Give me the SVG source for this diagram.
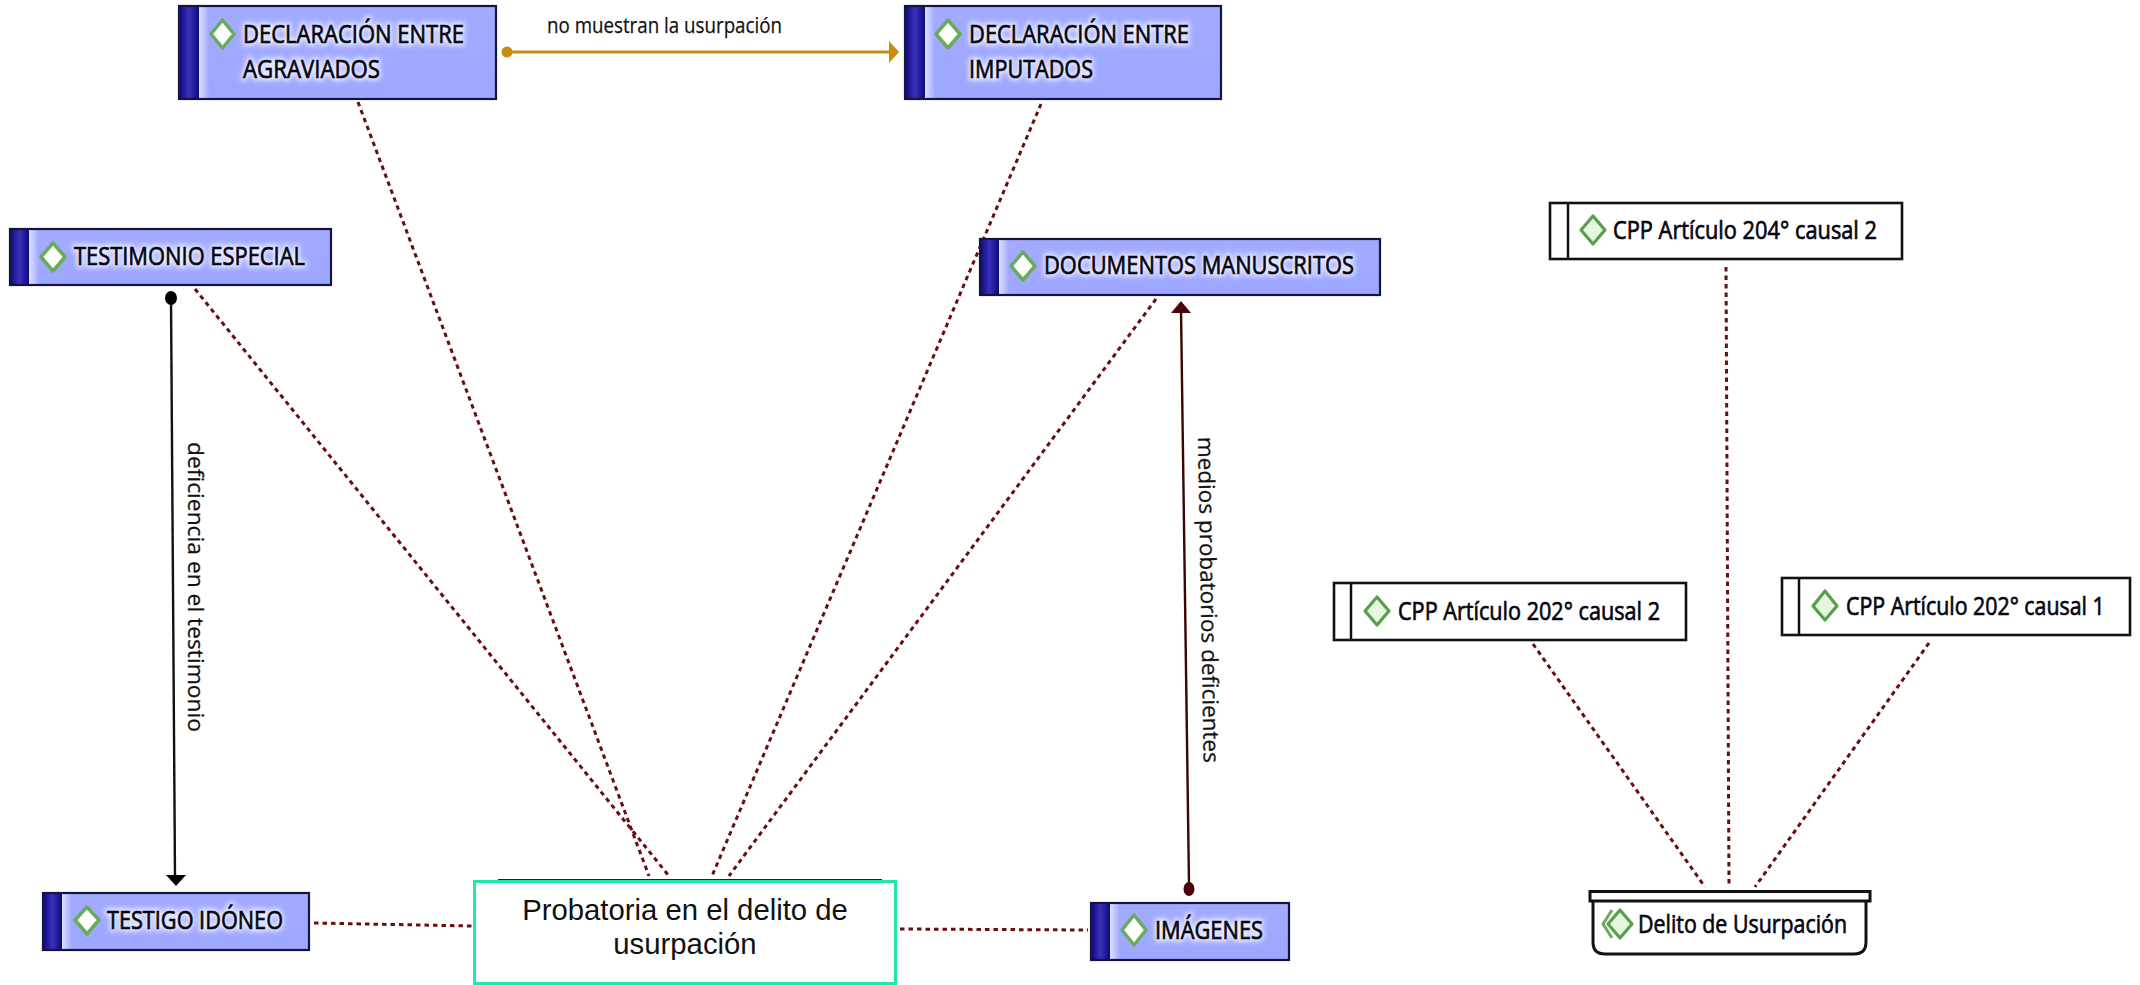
<svg xmlns="http://www.w3.org/2000/svg" width="2140" height="985" viewBox="0 0 2140 985">
<style>
.body{fill:url(#bodyg)}
.edge{fill:none;stroke:#14143c;stroke-width:2.2}
.plain{fill:#fff;stroke:#111;stroke-width:2.6}
.sep{stroke:#111;stroke-width:2.5}
.dia{fill:#fff;stroke:#69ab5c;stroke-width:3.5;stroke-linejoin:round}
.dia2{fill:#e6f6e1;stroke:#59a04c;stroke-width:3.2;stroke-linejoin:round}
.t{font-family:"Open Sans","Noto Sans",sans-serif;font-size:26px;fill:#050510;stroke:#050510;stroke-width:.7}
.halo{fill:#e8eaff;stroke:#e8eaff;stroke-width:5;filter:url(#blur)}
.lab{font-family:"Liberation Sans",Arial,sans-serif;font-size:29.3px;fill:#111;text-anchor:middle}
.cl{font-family:"Open Sans","Noto Sans",sans-serif;font-size:22px;fill:#111;stroke:#111;stroke-width:.25}
.dot{fill:none;stroke:#6a0d10;stroke-width:3;stroke-dasharray:4.5 4}
</style>
<defs>
<filter id="blur" x="-10%" y="-30%" width="120%" height="160%"><feGaussianBlur stdDeviation="2.5"/></filter>
<linearGradient id="bandg" x1="0" x2="1" y1="0" y2="0"><stop offset="0" stop-color="#0c0880"/><stop offset="0.5" stop-color="#3a30b8"/><stop offset="1" stop-color="#0c0880"/></linearGradient>
<linearGradient id="bodyg" x1="0" x2="0" y1="0" y2="1"><stop offset="0" stop-color="#a2abff"/><stop offset="1" stop-color="#9ea7ff"/></linearGradient>
<linearGradient id="glow" x1="0" x2="1" y1="0" y2="0"><stop offset="0" stop-color="#dfe2ff"/><stop offset="1" stop-color="#a0a9ff"/></linearGradient>
</defs>

<g id="connectors">
<line class="dot" x1="358" y1="102" x2="649" y2="876"/>
<line class="dot" x1="1041" y1="104" x2="712" y2="876"/>
<line class="dot" x1="195" y1="289" x2="669" y2="876"/>
<line class="dot" x1="1156" y1="299" x2="729" y2="876"/>
<line class="dot" x1="314" y1="923" x2="472" y2="926"/>
<line class="dot" x1="900" y1="929" x2="1088" y2="930"/>
<line class="dot" x1="1726" y1="267" x2="1729" y2="887"/>
<line class="dot" x1="1533" y1="644" x2="1705" y2="887"/>
<line class="dot" x1="1929" y1="643" x2="1755" y2="887"/>
<g id="c-gold"><line x1="507" y1="52" x2="892" y2="52" stroke="#c98c0c" stroke-width="2.8"/><circle cx="507" cy="52" r="5.5" fill="#c98c0c"/><path d="M889,41 L899,52 L889,63 Z" fill="#c98c0c"/><text class="cl" x="547" y="33" textLength="235" lengthAdjust="spacingAndGlyphs">no muestran la usurpación</text></g>
<g id="c-black"><line x1="171" y1="298" x2="175" y2="878" stroke="#111" stroke-width="2.4"/><ellipse cx="171" cy="298" rx="6" ry="7" fill="#000"/><path d="M166,875 L186,875 L176,886 Z" fill="#000"/><text class="cl" transform="translate(188,442) rotate(90)" textLength="290" lengthAdjust="spacingAndGlyphs">deficiencia en el testimonio</text></g>
<g id="c-red"><line x1="1181" y1="310" x2="1189" y2="885" stroke="#3a0505" stroke-width="2.4"/><ellipse cx="1189" cy="889" rx="5.5" ry="7" fill="#4a0508"/><path d="M1171,313 L1191,313 L1181,301 Z" fill="#4a0508"/><text class="cl" transform="translate(1198,437) rotate(89)" textLength="326" lengthAdjust="spacingAndGlyphs">medios probatorios deficientes</text></g>
</g>

<g id="n-agraviados"><rect class="body" x="179" y="6" width="317" height="93"/><rect x="199" y="6" width="10" height="93" fill="url(#glow)"/><rect x="179" y="6" width="20" height="93" fill="url(#bandg)"/><rect class="edge" x="179" y="6" width="317" height="93"/><path class="dia" d="M222.500,20 L234,34 L222.500,48 L211,34 Z"/><text class="t halo" x="243" y="43" textLength="221" lengthAdjust="spacingAndGlyphs">DECLARACIÓN ENTRE</text><text class="t halo" x="243" y="78" textLength="137" lengthAdjust="spacingAndGlyphs">AGRAVIADOS</text><text class="t" x="243" y="43" textLength="221" lengthAdjust="spacingAndGlyphs">DECLARACIÓN ENTRE</text><text class="t" x="243" y="78" textLength="137" lengthAdjust="spacingAndGlyphs">AGRAVIADOS</text></g>
<g id="n-imputados"><rect class="body" x="905" y="6" width="316" height="93"/><rect x="925" y="6" width="10" height="93" fill="url(#glow)"/><rect x="905" y="6" width="20" height="93" fill="url(#bandg)"/><rect class="edge" x="905" y="6" width="316" height="93"/><path class="dia" d="M948,20 L960,34 L948,48 L936,34 Z"/><text class="t halo" x="969" y="43" textLength="220" lengthAdjust="spacingAndGlyphs">DECLARACIÓN ENTRE</text><text class="t halo" x="969" y="78" textLength="124" lengthAdjust="spacingAndGlyphs">IMPUTADOS</text><text class="t" x="969" y="43" textLength="220" lengthAdjust="spacingAndGlyphs">DECLARACIÓN ENTRE</text><text class="t" x="969" y="78" textLength="124" lengthAdjust="spacingAndGlyphs">IMPUTADOS</text></g>
<g id="n-testimonio"><rect class="body" x="10" y="229" width="321" height="56"/><rect x="29" y="229" width="10" height="56" fill="url(#glow)"/><rect x="10" y="229" width="19" height="56" fill="url(#bandg)"/><rect class="edge" x="10" y="229" width="321" height="56"/><path class="dia" d="M53,243 L65,257 L53,271 L41,257 Z"/><text class="t halo" x="74" y="265" textLength="231" lengthAdjust="spacingAndGlyphs">TESTIMONIO ESPECIAL</text><text class="t" x="74" y="265" textLength="231" lengthAdjust="spacingAndGlyphs">TESTIMONIO ESPECIAL</text></g>
<g id="n-documentos"><rect class="body" x="980" y="239" width="400" height="56"/><rect x="999" y="239" width="10" height="56" fill="url(#glow)"/><rect x="980" y="239" width="19" height="56" fill="url(#bandg)"/><rect class="edge" x="980" y="239" width="400" height="56"/><path class="dia" d="M1023,252 L1035,266 L1023,280 L1011,266 Z"/><text class="t halo" x="1044" y="274" textLength="310" lengthAdjust="spacingAndGlyphs">DOCUMENTOS MANUSCRITOS</text><text class="t" x="1044" y="274" textLength="310" lengthAdjust="spacingAndGlyphs">DOCUMENTOS MANUSCRITOS</text></g>
<g id="n-testigo"><rect class="body" x="43" y="893" width="266" height="57"/><rect x="62" y="893" width="10" height="57" fill="url(#glow)"/><rect x="43" y="893" width="19" height="57" fill="url(#bandg)"/><rect class="edge" x="43" y="893" width="266" height="57"/><path class="dia" d="M87,907 L99,920 L87,934 L75,920 Z"/><text class="t halo" x="107" y="929" textLength="176" lengthAdjust="spacingAndGlyphs">TESTIGO IDÓNEO</text><text class="t" x="107" y="929" textLength="176" lengthAdjust="spacingAndGlyphs">TESTIGO IDÓNEO</text></g>
<g id="n-imagenes"><rect class="body" x="1091" y="903" width="198" height="57"/><rect x="1110" y="903" width="10" height="57" fill="url(#glow)"/><rect x="1091" y="903" width="19" height="57" fill="url(#bandg)"/><rect class="edge" x="1091" y="903" width="198" height="57"/><path class="dia" d="M1134,915 L1146,930 L1134,945 L1122,930 Z"/><text class="t halo" x="1155" y="939" textLength="108" lengthAdjust="spacingAndGlyphs">IMÁGENES</text><text class="t" x="1155" y="939" textLength="108" lengthAdjust="spacingAndGlyphs">IMÁGENES</text></g>
<g id="n-probatoria"><line x1="498" y1="880" x2="882" y2="880" stroke="#222" stroke-width="2"/><rect x="474.500" y="881.500" width="421" height="102" fill="#fff" stroke="#1de9ac" stroke-width="3"/><text class="lab" x="685" y="920">Probatoria en el delito de</text><text class="lab" x="685" y="954">usurpación</text></g>
<g id="n-204"><rect class="plain" x="1550" y="203" width="352" height="56"/><line class="sep" x1="1568" y1="203" x2="1568" y2="259"/><path class="dia2" d="M1593,216 L1605,230 L1593,244 L1581,230 Z"/><text class="t" x="1613" y="239" textLength="264" lengthAdjust="spacingAndGlyphs">CPP Artículo 204° causal 2</text></g>
<g id="n-c2"><rect class="plain" x="1334" y="583" width="352" height="57"/><line class="sep" x1="1351" y1="583" x2="1351" y2="640"/><path class="dia2" d="M1377,597 L1389,611 L1377,625 L1365,611 Z"/><text class="t" x="1398" y="620" textLength="262" lengthAdjust="spacingAndGlyphs">CPP Artículo 202° causal 2</text></g>
<g id="n-c1"><rect class="plain" x="1782" y="578" width="348" height="57"/><line class="sep" x1="1799" y1="578" x2="1799" y2="635"/><path class="dia2" d="M1825,591 L1837,606 L1825,620 L1813,606 Z"/><text class="t" transform="translate(1846,615) scale(.822,1)">CPP Artículo 202° causal 1</text></g>
<g id="n-delito"><path d="M1593,901 V942 Q1593,954 1605,954 H1854 Q1866,954 1866,942 V901" fill="#fff" stroke="#111" stroke-width="3"/><rect x="1590" y="891.500" width="280" height="9.500" fill="#fff" stroke="#111" stroke-width="3"/><path d="M1612,910 L1603,924 L1612,938" fill="none" stroke="#69ab5c" stroke-width="3" stroke-linejoin="round"/><path class="dia2" d="M1620,910 L1632,924 L1620,938 L1608,924 Z"/><text class="t" x="1638" y="933" textLength="209" lengthAdjust="spacingAndGlyphs">Delito de Usurpación</text></g>
</svg>
